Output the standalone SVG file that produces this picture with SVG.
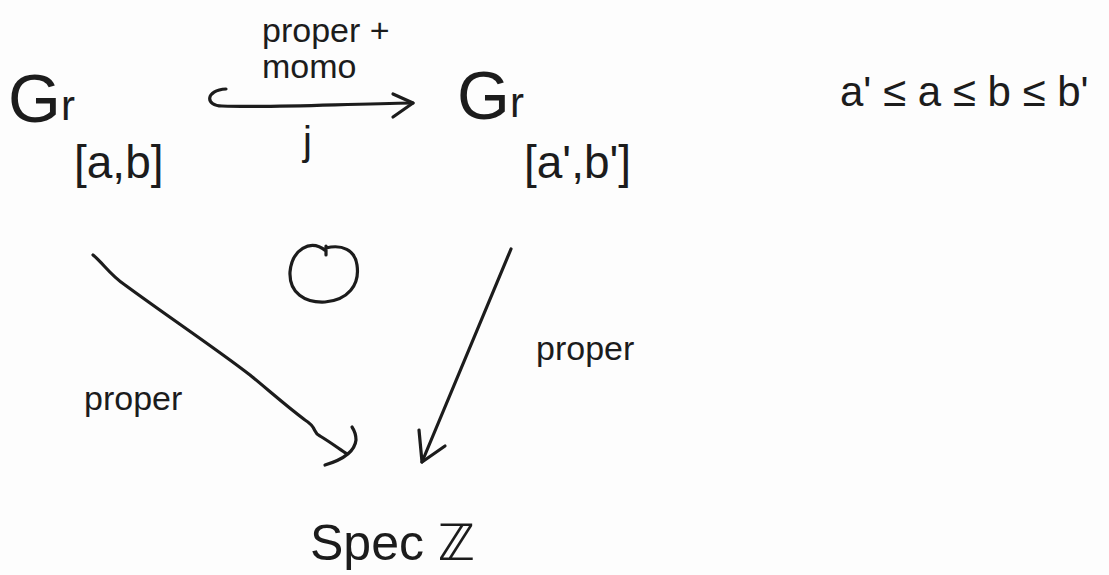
<svg xmlns="http://www.w3.org/2000/svg" width="1109" height="575" viewBox="0 0 1109 575">
<style>
text{font-family:"Liberation Sans","DejaVu Sans",sans-serif;fill:#1c1c1c}
.s{fill:none;stroke:#1c1c1c;stroke-width:3.2;stroke-linecap:round;stroke-linejoin:round}
</style>
<rect width="1109" height="575" fill="#fdfdfd"/>
<g id="gr-ab">
<text x="8" y="122" font-size="68">G<tspan font-size="42" dy="-2">r</tspan></text>
<text x="74" y="178" font-size="46">[a,b]</text>
</g>
<g id="gr-a1b1">
<text x="457" y="119" font-size="68">G<tspan font-size="42" dy="-2">r</tspan></text>
<text x="524" y="178" font-size="46">[a',b']</text>
</g>
<g id="spec-z">
<text x="310" y="560" font-size="50">Spec ℤ</text>
</g>
<g id="ineq">
<text x="840" y="106" font-size="42">a' ≤ a ≤ b ≤ b'</text>
</g>
<g id="commute">
<path class="s" d="M326 251 C310 238 292 250 290 272 C289 293 305 303 325 302 C348 300 360 285 357 265 C355 250 342 244 326 248 M326 246 L326 255"/>
</g>
<g id="connectors">
<path class="s" d="M226 89 C205 90 205 106 222 106 C270 108 340 104 413 103"/>
<path class="s" d="M393 94 L413 103 L393 117"/>
<path class="s" d="M93 255 C103 263 110 275 125 285 C170 318 215 348 250 375 C272 393 285 405 305 420 C318 428 312 432 320 436 C330 442 338 448 347 454"/>
<path class="s" d="M325 465 C345 459 355 450 356 440 C356 435 354 430 352 427"/>
<path class="s" d="M511 249 L422 462"/>
<path class="s" d="M419 430 L422 462 L445 446"/>
<text x="262" y="42" font-size="34">proper +</text>
<text x="262" y="78" font-size="34">momo</text>
<text x="303" y="155" font-size="40">j</text>
<text x="84" y="410" font-size="34">proper</text>
<text x="536" y="360" font-size="34">proper</text>
</g>
</svg>
